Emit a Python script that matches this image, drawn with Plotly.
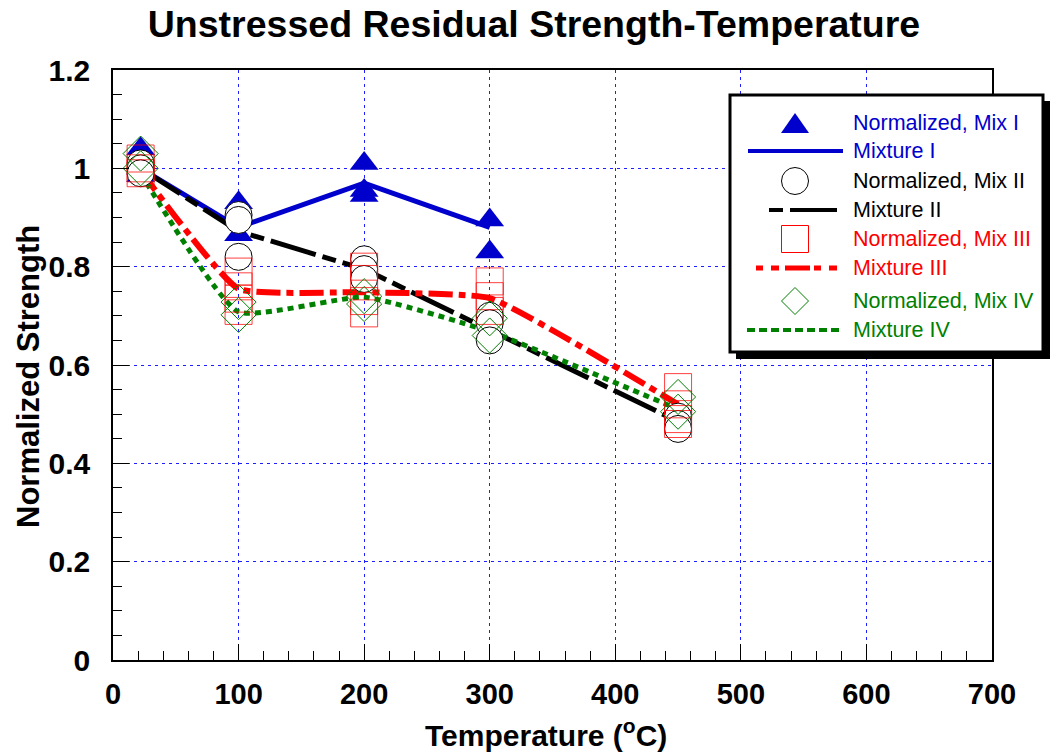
import plotly.graph_objects as go

# ---- data -------------------------------------------------------------
# Mix I (normalized specimens + mean curve)
mix1_pts_x = [22, 22, 22, 100, 100, 200, 200, 200, 300, 300]
mix1_pts_y = [1.04, 1.0, 0.985, 0.93, 0.865, 1.01, 0.955, 0.945, 0.895, 0.83]
mix1_line_x = [22, 100, 200, 300]
mix1_line_y = [1.0, 0.88, 0.97, 0.88]

# Mix II
mix2_pts_x = [22, 22, 22, 100, 100, 100, 200, 200, 200, 300, 300, 300, 450, 450, 450]
mix2_pts_y = [1.01, 1.0, 0.99, 0.905, 0.895, 0.82, 0.815, 0.795, 0.775,
              0.70, 0.685, 0.65, 0.495, 0.48, 0.47]
mix2_line_x = [22, 100, 200, 300, 450]
mix2_line_y = [1.0, 0.872, 0.795, 0.672, 0.485]

# Mix III
mix3_pts_x = [22, 22, 22, 100, 100, 100, 100, 200, 200, 200, 200, 300, 300, 300,
              450, 450, 450, 450]
mix3_pts_y = [1.02, 1.0, 0.99, 0.79, 0.76, 0.735, 0.71, 0.80, 0.775, 0.73, 0.705,
              0.77, 0.74, 0.71, 0.555, 0.52, 0.49, 0.48]
mix3_line_x = [22, 100, 200, 300, 450]
mix3_line_y = [0.995, 0.755, 0.748, 0.736, 0.52]

# Mix IV
mix4_pts_x = [22, 22, 100, 100, 200, 200, 300, 300, 450, 450]
mix4_pts_y = [1.03, 1.0, 0.728, 0.702, 0.74, 0.724, 0.695, 0.66, 0.535, 0.505]
mix4_line_x = [22, 100, 200, 300, 450]
mix4_line_y = [0.99, 0.708, 0.738, 0.668, 0.51]

x_ticks = [0, 100, 200, 300, 400, 500, 600, 700]
y_ticks = [0, 0.2, 0.4, 0.6, 0.8, 1.0, 1.2]
y_tick_text = ["0", "0.2", "0.4", "0.6", "0.8", "1", "1.2"]

BLUE = "rgb(0,0,205)"
RED = "rgb(255,0,0)"
GREEN = "rgb(0,128,0)"
FONT = "Liberation Sans, Arial, sans-serif"

legend_entries = [
    ("Normalized, Mix I", BLUE),
    ("Mixture I", BLUE),
    ("Normalized, Mix II", "black"),
    ("Mixture II", "black"),
    ("Normalized, Mix III", RED),
    ("Mixture III", RED),
    ("Normalized, Mix IV", GREEN),
    ("Mixture IV", GREEN),
]

# ---- figure -----------------------------------------------------------
W, H = 1051, 755
ML, MR, MT, MB = 113, 59, 70, 95
PW, PH = W - ML - MR, H - MT - MB

fig = go.Figure()

# mean curves
fig.add_trace(go.Scatter(x=mix1_line_x, y=mix1_line_y, mode="lines",
                         line=dict(color=BLUE, width=5), name="Mixture I"))
fig.add_trace(go.Scatter(x=mix2_line_x, y=mix2_line_y, mode="lines",
                         line=dict(color="black", width=5, dash="47px,7px,14px,7px"),
                         name="Mixture II"))
fig.add_trace(go.Scatter(x=mix3_line_x, y=mix3_line_y, mode="lines",
                         line=dict(color=RED, width=6, dash="24px,6px,7px,6px",
                                   shape="spline", smoothing=0.4),
                         name="Mixture III"))
fig.add_trace(go.Scatter(x=mix4_line_x, y=mix4_line_y, mode="lines",
                         line=dict(color=GREEN, width=5, dash="6px,5px",
                                   shape="spline", smoothing=0.45),
                         name="Mixture IV"))

# specimen markers
fig.add_trace(go.Scatter(x=mix1_pts_x, y=mix1_pts_y, mode="markers",
                         marker=dict(symbol="triangle-up", size=25, color=BLUE,
                                     line=dict(width=0)),
                         name="Normalized, Mix I"))
fig.add_trace(go.Scatter(x=mix2_pts_x, y=mix2_pts_y, mode="markers",
                         marker=dict(symbol="circle", size=27, color="white",
                                     line=dict(color="black", width=1)),
                         name="Normalized, Mix II"))
fig.add_trace(go.Scatter(x=mix3_pts_x, y=mix3_pts_y, mode="markers",
                         marker=dict(symbol="square-open", size=27,
                                     color="rgba(255,0,0,0.75)",
                                     line=dict(width=1)),
                         name="Normalized, Mix III"))
fig.add_trace(go.Scatter(x=mix4_pts_x, y=mix4_pts_y, mode="markers",
                         marker=dict(symbol="diamond-open", size=27, color=GREEN,
                                     line=dict(width=1)),
                         name="Normalized, Mix IV"))


def px(x):
    return (x - ML) / PW


def py(y):
    return (H - MB - y) / PH


shapes = []
annotations = []

# legend box with drop shadow
shapes.append(dict(type="rect", xref="paper", yref="paper",
                   x0=px(736), x1=px(1050), y0=py(359), y1=py(101),
                   fillcolor="black", line=dict(width=0), layer="above"))
shapes.append(dict(type="rect", xref="paper", yref="paper",
                   x0=px(730), x1=px(1043), y0=py(352), y1=py(95),
                   fillcolor="white", line=dict(color="black", width=3), layer="above"))

rows = [123, 151, 181, 210, 239, 268, 301, 330]
sx = 795
for (label, col), ry in zip(legend_entries, rows):
    annotations.append(dict(x=px(851), y=py(ry), xref="paper", yref="paper",
                            text=label, showarrow=False, xanchor="left",
                            yanchor="middle",
                            font=dict(family=FONT, size=21.5, color=col)))

# legend symbols
r = 13.5
shapes.append(dict(type="path", xref="paper", yref="paper", layer="above",
                   path=(f"M {px(sx - 14)} {py(rows[0] + 10)} L {px(sx)} {py(rows[0] - 10)} "
                         f"L {px(sx + 14)} {py(rows[0] + 10)} Z"),
                   fillcolor=BLUE, line=dict(width=0)))
shapes.append(dict(type="circle", xref="paper", yref="paper", layer="above",
                   x0=px(sx - r), x1=px(sx + r), y0=py(rows[2] + r), y1=py(rows[2] - r),
                   line=dict(color="black", width=1), fillcolor="white"))
shapes.append(dict(type="rect", xref="paper", yref="paper", layer="above",
                   x0=px(sx - r), x1=px(sx + r), y0=py(rows[4] + r), y1=py(rows[4] - r),
                   line=dict(color=RED, width=1)))
shapes.append(dict(type="path", xref="paper", yref="paper", layer="above",
                   path=(f"M {px(sx - r)} {py(rows[6])} L {px(sx)} {py(rows[6] - r)} "
                         f"L {px(sx + r)} {py(rows[6])} L {px(sx)} {py(rows[6] + r)} Z"),
                   line=dict(color=GREEN, width=1)))

# legend line samples
shapes.append(dict(type="line", xref="paper", yref="paper", layer="above",
                   x0=px(748), x1=px(843), y0=py(rows[1]), y1=py(rows[1]),
                   line=dict(color=BLUE, width=4)))
shapes.append(dict(type="line", xref="paper", yref="paper", layer="above",
                   x0=px(769), x1=px(837), y0=py(rows[3]), y1=py(rows[3]),
                   line=dict(color="black", width=4, dash="14px,7px,47px")))
shapes.append(dict(type="line", xref="paper", yref="paper", layer="above",
                   x0=px(756), x1=px(837), y0=py(rows[5]), y1=py(rows[5]),
                   line=dict(color=RED, width=5, dash="7px,8px,8px,6px,25px,4px")))
shapes.append(dict(type="line", xref="paper", yref="paper", layer="above",
                   x0=px(747), x1=px(840), y0=py(rows[7]), y1=py(rows[7]),
                   line=dict(color=GREEN, width=4, dash="8px,4px")))

# axis titles
annotations.append(dict(x=px(28), y=py(377), xref="paper", yref="paper",
                        xanchor="center", yanchor="middle",
                        text="Normalized Strength", textangle=-90, showarrow=False,
                        font=dict(family=FONT, size=31, color="black", weight="bold")))
annotations.append(dict(x=px(546), y=py(733), xref="paper", yref="paper",
                        xanchor="center", yanchor="middle",
                        text="Temperature (<sup>o</sup>C)", showarrow=False,
                        font=dict(family=FONT, size=30, color="black", weight="bold")))

fig.update_layout(
    width=W, height=H,
    margin=dict(l=ML, r=MR, t=MT, b=MB, pad=0),
    paper_bgcolor="white", plot_bgcolor="white",
    showlegend=False,
    title=dict(text="Unstressed Residual Strength-Temperature",
               x=534 / W, xanchor="center", y=1 - 24 / H, yanchor="middle",
               font=dict(family=FONT, size=37.5, color="black", weight="bold")),
    shapes=shapes, annotations=annotations,
    xaxis=dict(range=[0, 700], tickvals=x_ticks, ticks="inside", ticklen=16,
               tickwidth=1, tickcolor="black",
               minor=dict(dtick=20, ticks="inside", ticklen=9, tickcolor="black",
                          showgrid=False),
               showgrid=True, gridcolor="rgb(30,30,255)", gridwidth=1, griddash="3px,4px",
               showline=True, linecolor="black", linewidth=1.5, mirror=True,
               zeroline=False, ticklabelstandoff=7,
               tickfont=dict(family=FONT, size=29, color="black", weight="bold")),
    yaxis=dict(range=[0, 1.2], tickvals=y_ticks, ticktext=y_tick_text,
               ticks="inside", ticklen=16, tickwidth=1, tickcolor="black",
               minor=dict(dtick=0.05, ticks="inside", ticklen=9, tickcolor="black",
                          showgrid=False),
               showgrid=True, gridcolor="rgb(30,30,255)", gridwidth=1, griddash="3px,4px",
               showline=True, linecolor="black", linewidth=1.5, mirror=True,
               zeroline=False, ticklabelstandoff=15,
               tickfont=dict(family=FONT, size=30, color="black", weight="bold")),
)

fig.write_html("out.html")
